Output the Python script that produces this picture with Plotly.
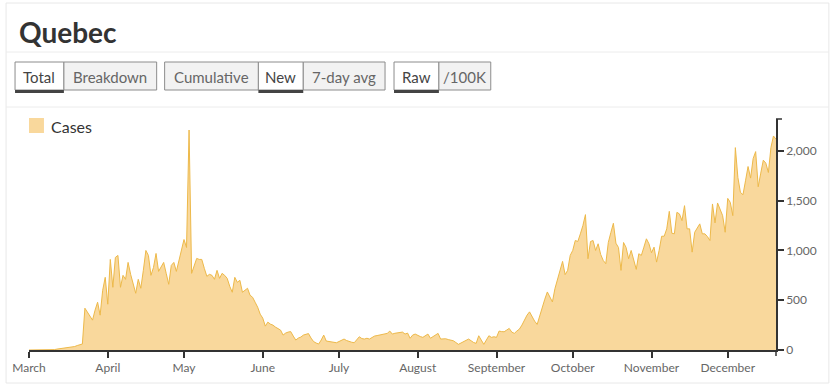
import pandas as pd
import plotly.graph_objects as go

# ---------------- data (daily new cases, Quebec 2020) ----------------
mar = [0, 0, 0, 0, 0, 1, 1, 2, 1, 3, 4,
       9, 12, 15, 20, 22, 25, 30, 35, 45, 50,
       60, 420, 380, 340, 300, 400, 480, 350, 600, 730]
apr = [460, 910, 630, 930, 950, 630, 750, 710, 880, 760,
       650, 570, 710, 620, 800, 1000, 950, 750, 830, 970,
       790, 830, 880, 770, 660, 850, 880, 790, 900, 1000]
may = [1110, 1030, 2210, 770, 850, 920, 910, 910, 820, 740,
       760, 750, 710, 800, 720, 770, 750, 720, 640, 580,
       730, 680, 700, 580, 600, 620, 550, 530, 480, 430, 360]
jun = [320, 240, 280, 260, 250, 230, 215, 200, 150, 170,
       180, 185, 140, 100, 120, 130, 150, 160, 165, 120,
       85, 70, 60, 100, 150, 90, 85, 80, 75, 73]
jul = [85, 95, 110, 95, 83, 78, 73, 100, 133, 115,
       110, 118, 110, 125, 140, 145, 150, 160, 163, 167,
       190, 160, 168, 173, 178, 180, 160, 170, 118, 150, 160]
aug = [143, 135, 127, 145, 160, 118, 133, 150, 167, 110,
       115, 113, 105, 100, 93, 75, 57, 70, 83, 95,
       110, 93, 75, 67, 143, 100, 57, 100, 143, 127, 133]
sep = [127, 190, 185, 183, 200, 217, 180, 167, 190, 210,
       250, 300, 350, 383, 333, 290, 257, 350, 433, 510,
       583, 530, 483, 617, 700, 800, 890, 757, 800, 950]
oct_ = [1000, 1100, 1090, 1167, 1250, 1360, 917, 1090, 1100, 1000,
        1067, 960, 900, 867, 1080, 1180, 1273, 1073, 1030, 800,
        1080, 1030, 917, 1000, 917, 810, 967, 950, 1033, 1117, 1067]
nov = [977, 1033, 883, 1000, 1143, 1143, 1217, 1393, 1173, 1167,
       1383, 1367, 1300, 1450, 1217, 1217, 983, 1183, 1230, 1267,
       1167, 1167, 1140, 1100, 1467, 1277, 1477, 1417, 1350, 1183]
dec = [1523, 1483, 1350, 2033, 1733, 1583, 1560, 1700, 1843, 1727,
       1923, 1993, 1640, 1777, 1907, 1877, 1783, 2033, 2150, 2117]

start_date = "2020-03-01"
month_ticks = ["2020-03-01", "2020-04-01", "2020-05-01", "2020-06-01", "2020-07-01",
               "2020-08-01", "2020-09-01", "2020-10-01", "2020-11-01", "2020-12-01"]
month_labels = ["March", "April", "May", "June", "July", "August",
                "September", "October", "November", "December"]
y_ticks = [0, 500, 1000, 1500, 2000]
y_labels = ["0", "500", "1,000", "1,500", "2,000"]

title_text = "Quebec"
series_name = "Cases"
button_groups = [
    [("Total", True), ("Breakdown", False)],
    [("Cumulative", False), ("New", True), ("7-day avg", False)],
    [("Raw", True), ("/100K", False)],
]

values = mar + apr + may + jun + jul + aug + sep + oct_ + nov + dec
dates = pd.date_range(start_date, periods=len(values), freq="D")

# ---------------- geometry ----------------
W, H = 838, 387
L, R, T, B = 27, 62, 119, 37
PW, PH = W - L - R, H - T - B

def px(x):
    return (x - L) / PW

def py(y):
    return (H - B - y) / PH

FILL = "#f9d89c"
LINE = "#edb94a"
FONT = "Lato, 'Open Sans', sans-serif"

fig = go.Figure()
fig.add_trace(go.Scatter(
    x=dates, y=values, mode="lines", fill="tozeroy",
    fillcolor=FILL, line=dict(color=LINE, width=1),
    name=series_name, showlegend=False, hoverinfo="x+y",
))

shapes = []
annotations = []

# card borders
shapes.append(dict(type="rect", xref="paper", yref="paper",
                   x0=px(4), x1=px(829), y0=py(383), y1=py(3),
                   line=dict(color="#e8e8e8", width=1), fillcolor="rgba(0,0,0,0)", layer="below"))
for yy in (52, 107):
    shapes.append(dict(type="line", xref="paper", yref="paper",
                       x0=px(4), x1=px(829), y0=py(yy), y1=py(yy),
                       line=dict(color="#ececec", width=1)))

# title
annotations.append(dict(text="<b>%s</b>" % title_text, xref="paper", yref="paper",
                        x=px(15), y=py(32), xanchor="left", yanchor="middle",
                        showarrow=False, font=dict(family=FONT, size=28, color="#333")))

# buttons
btn_bounds = [
    [(13, 62), (62, 155)],
    [(163, 257), (257, 302), (302, 384)],
    [(393, 438), (438, 490)],
]
for group, bounds in zip(button_groups, btn_bounds):
    for (label, sel), (x0, x1) in zip(group, bounds):
        shapes.append(dict(type="rect", xref="paper", yref="paper",
                           x0=px(x0), x1=px(x1), y0=py(90), y1=py(62),
                           line=dict(color="#8c8c8c", width=1),
                           fillcolor="#ffffff" if sel else "#f2f2f2"))
        if sel:
            shapes.append(dict(type="rect", xref="paper", yref="paper",
                               x0=px(x0), x1=px(x1), y0=py(93), y1=py(90),
                               line=dict(width=0), fillcolor="#444"))
        annotations.append(dict(text=label, xref="paper", yref="paper",
                                x=px((x0 + x1) / 2), y=py(76.5),
                                xanchor="center", yanchor="middle", showarrow=False,
                                font=dict(family=FONT, size=15,
                                          color="#444" if sel else "#666")))

# legend
shapes.append(dict(type="rect", xref="paper", yref="paper",
                   x0=px(27), x1=px(42), y0=py(133), y1=py(118),
                   line=dict(width=0), fillcolor=FILL))
annotations.append(dict(text=series_name, xref="paper", yref="paper",
                        x=px(47), y=py(126), xanchor="left", yanchor="middle",
                        showarrow=False, font=dict(family=FONT, size=16, color="#333")))

# d3-style outer ticks at domain ends
shapes.append(dict(type="line", xref="paper", yref="paper",
                   x0=1, x1=px(782), y0=1, y1=1, line=dict(color="#333", width=1.5)))
shapes.append(dict(type="line", xref="paper", yref="paper",
                   x0=1, x1=1, y0=0, y1=py(356), line=dict(color="#333", width=1.5)))

fig.update_layout(
    width=W, height=H,
    margin=dict(l=L, r=R, t=T, b=B, pad=0),
    paper_bgcolor="white", plot_bgcolor="white",
    font=dict(family=FONT, color="#666"),
    showlegend=False,
    shapes=shapes, annotations=annotations,
    xaxis=dict(
        type="date", range=[dates[0], dates[-1]],
        tickvals=month_ticks, ticktext=month_labels,
        showline=True, linecolor="#333", linewidth=1.5,
        ticks="outside", ticklen=6, tickcolor="#333", tickwidth=1.5,
        tickfont=dict(family=FONT, size=12, color="#666"),
        showgrid=False, zeroline=False, fixedrange=True,
    ),
    yaxis=dict(
        side="right", range=[0, max(values) * 1.05],
        tickvals=y_ticks, ticktext=y_labels,
        showline=True, linecolor="#333", linewidth=1.5,
        ticks="outside", ticklen=6, tickcolor="#333", tickwidth=1.5,
        tickfont=dict(family=FONT, size=12, color="#666"),
        showgrid=False, zeroline=False, fixedrange=True,
    ),
)

fig.write_html("out.html", config={"displayModeBar": False},
               post_script="document.body.style.margin='0';")
